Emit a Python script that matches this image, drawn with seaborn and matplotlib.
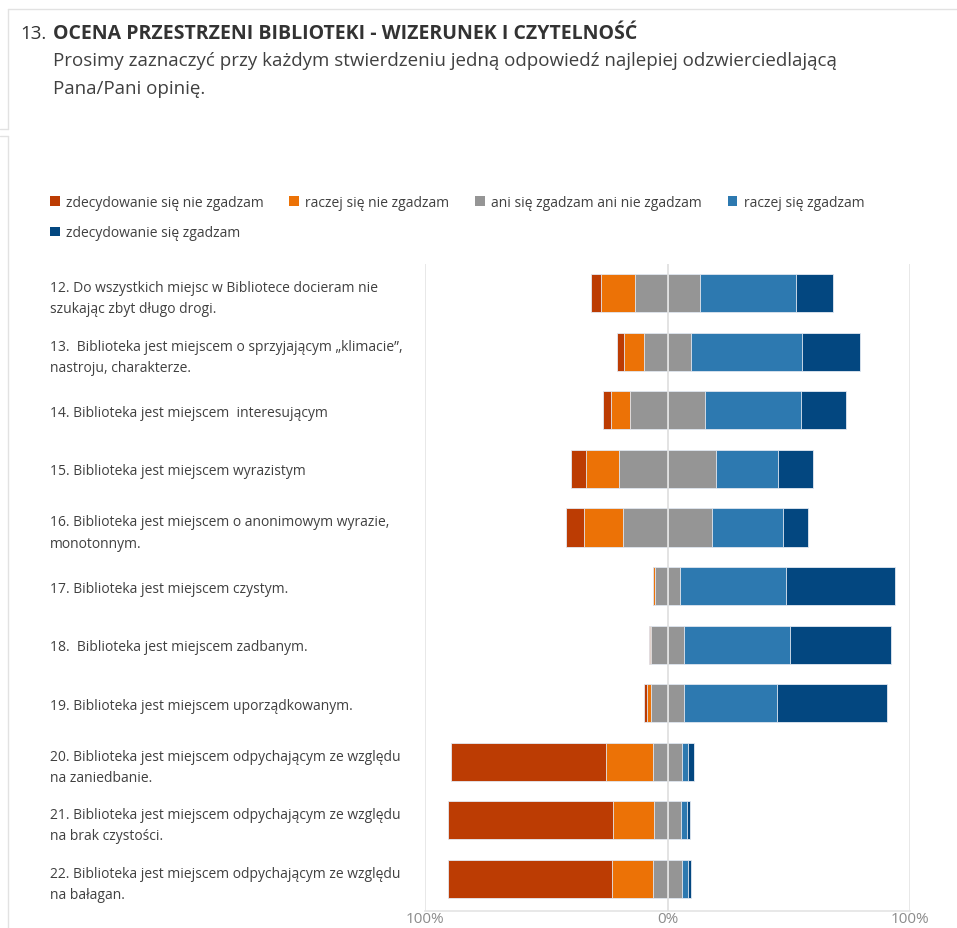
import matplotlib
matplotlib.use("Agg")
import matplotlib.pyplot as plt
from matplotlib.lines import Line2D
from matplotlib.patches import Patch
import seaborn as sns

W, H = 957, 929

STATEMENTS = [
    "12. Do wszystkich miejsc w Bibliotece docieram nie\nszukając zbyt długo drogi.",
    "13.  Biblioteka jest miejscem o sprzyjającym „klimacie”,\nnastroju, charakterze.",
    "14. Biblioteka jest miejscem  interesującym",
    "15. Biblioteka jest miejscem wyrazistym",
    "16. Biblioteka jest miejscem o anonimowym wyrazie,\nmonotonnym.",
    "17. Biblioteka jest miejscem czystym.",
    "18.  Biblioteka jest miejscem zadbanym.",
    "19. Biblioteka jest miejscem uporządkowanym.",
    "20. Biblioteka jest miejscem odpychającym ze względu\nna zaniedbanie.",
    "21. Biblioteka jest miejscem odpychającym ze względu\nna brak czystości.",
    "22. Biblioteka jest miejscem odpychającym ze względu\nna bałagan.",
]

# percentages per answer
strongly_disagree = [4.3, 2.9, 3.0, 6.5, 7.7, 0.0, 0.4, 1.1, 63.9, 68.1, 67.3]
disagree = [13.9, 8.2, 7.8, 13.5, 16.1, 0.9, 0.4, 1.5, 19.1, 16.9, 17.1]
neutral = [26.8, 19.3, 31.2, 40.0, 36.4, 10.3, 13.9, 13.8, 12.2, 11.3, 11.9]
agree = [39.7, 46.0, 39.5, 25.7, 29.3, 43.8, 43.6, 38.1, 2.2, 2.2, 2.4]
strongly_agree = [15.3, 23.6, 18.5, 14.3, 10.5, 45.0, 41.7, 45.5, 2.6, 1.5, 1.3]

ANSWERS = [
    "zdecydowanie się nie zgadzam",
    "raczej się nie zgadzam",
    "ani się zgadzam ani nie zgadzam",
    "raczej się zgadzam",
    "zdecydowanie się zgadzam",
]
COLORS = ["#bc3c03", "#ec7206", "#959595", "#2d79b0", "#034780"]

TICKS = [-100, 0, 100]
TICK_LABELS = ["100%", "0%", "100%"]

TEXT = "#404040"
FRAME = "#e4e4e4"


def fx(px):
    return px / W


def fy(py):
    return 1 - py / H


sns.set_theme(style="white")
plt.rcParams["font.family"] = ["Open Sans", "DejaVu Sans"]

fig = plt.figure(figsize=(W / 100, H / 100), dpi=100)
ax = fig.add_axes([fx(425), fy(912), fx(910) - fx(425), fy(265) - fy(912)])

half = [n / 2 for n in neutral]
left_layers = [
    [-(h + d + s) for h, d, s in zip(half, disagree, strongly_disagree)],
    [-(h + d) for h, d in zip(half, disagree)],
    [-h for h in half],
]
right_layers = [
    [h + a + s for h, a, s in zip(half, agree, strongly_agree)],
    [h + a for h, a in zip(half, agree)],
    half,
]
left_colors = [COLORS[0], COLORS[1], COLORS[2]]
right_colors = [COLORS[4], COLORS[3], COLORS[2]]

# stacked diverging bars: draw outer cumulative layers first, inner ones on top
for vals, col in list(zip(left_layers, left_colors)) + list(zip(right_layers, right_colors)):
    sns.barplot(
        x=vals, y=STATEMENTS, orient="h", color=col, width=0.65,
        errorbar=None, edgecolor="#e3e9f2", linewidth=0.6, saturation=1, ax=ax,
    )

ax.axvline(0, color="#e0e0e0", lw=1.3, zorder=5)
ax.axvline(-100, color=FRAME, lw=1.2, zorder=0)
ax.axvline(100, color=FRAME, lw=1.2, zorder=0)

ax.set_xlim(-100, 100)
ax.set_ylim(10.55, -0.5)
ax.set_xticks(TICKS)
ax.set_xticklabels(TICK_LABELS, color="#8c8c8c", fontsize=11)
ax.set_xlabel("")
ax.set_ylabel("")
for side in ["top", "left", "right"]:
    ax.spines[side].set_visible(False)
ax.spines["bottom"].set_color(FRAME)
ax.spines["bottom"].set_linewidth(1.2)
ax.tick_params(axis="x", length=0, pad=0)
ax.tick_params(axis="y", length=0, pad=270)
for lab in ax.get_yticklabels():
    lab.set_horizontalalignment("left")
    lab.set_color(TEXT)
    lab.set_fontsize(10)
    lab.set_linespacing(1.55)

# header
fig.text(fx(20), fy(34), "13.", fontsize=13.5, color="#333333", va="center")
fig.text(fx(53), fy(34), "OCENA PRZESTRZENI BIBLIOTEKI - WIZERUNEK I CZYTELNOŚĆ",
         fontsize=14, fontweight="bold", color="#333333", va="center")
fig.text(fx(53), fy(61), "Prosimy zaznaczyć przy każdym stwierdzeniu jedną odpowiedź najlepiej odzwierciedlającą",
         fontsize=13.5, color=TEXT, va="center")
fig.text(fx(53), fy(89), "Pana/Pani opinię.", fontsize=13.5, color=TEXT, va="center")

# panel borders
for xs, ys in [((8, 957), (10, 10)), ((8, 8), (10, 130)), ((0, 8), (130, 130)),
               ((0, 8), (137, 137)), ((8, 8), (137, 929))]:
    fig.add_artist(Line2D([fx(v) for v in xs], [fy(v) for v in ys], color="#e2e2e2", lw=1))

# legend: this order gives a row-major layout with 4 columns
handles = [Patch(facecolor=c, edgecolor="none") for c in COLORS]
order = [0, 4, 1, 2, 3]
fig.legend(
    [handles[i] for i in order], [ANSWERS[i] for i in order],
    loc="upper left", bbox_to_anchor=(fx(50), fy(196)), ncol=4, frameon=False,
    fontsize=10, labelcolor=TEXT, handlelength=0.7, handleheight=0.7,
    handletextpad=0.45, columnspacing=1.85, labelspacing=1.1, borderpad=0, borderaxespad=0,
)

fig.savefig("out.png", dpi=100)
